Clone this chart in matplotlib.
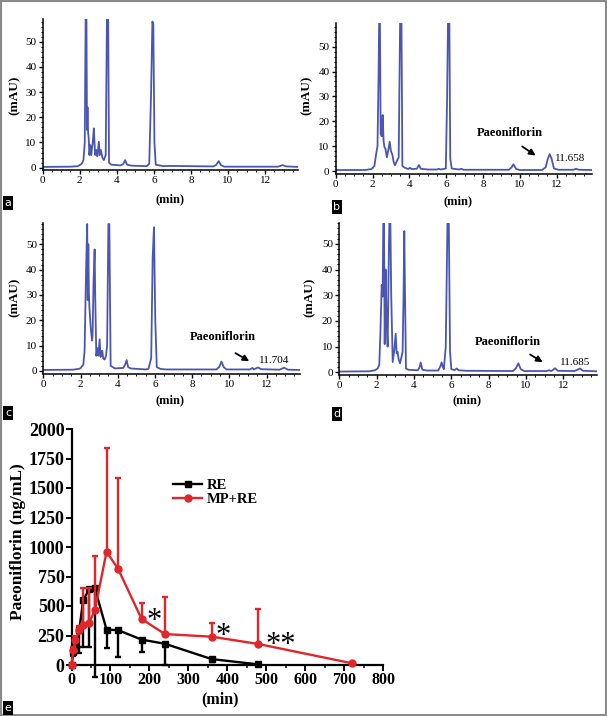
import matplotlib
matplotlib.use("Agg")
import matplotlib.pyplot as plt
from matplotlib.ticker import MultipleLocator
from matplotlib.patches import Rectangle
from matplotlib.lines import Line2D

W, H = 607, 716
SERIF = "Liberation Serif"
BLUE = "#4b56b3"
RED = "#e0262b"

# chromatogram traces, (min, mAU)
trace_a = [(0, 0.3), (1.5, 0.4), (1.9, 0.6), (2.1, 1.5), (2.2, 3), (2.27, 10), (2.32, 62), (2.36, 62),
           (2.39, 15), (2.42, 24), (2.45, 14), (2.48, 12), (2.52, 5), (2.57, 9), (2.62, 5), (2.7, 10),
           (2.76, 15.6), (2.83, 5), (2.9, 7), (2.95, 4.5), (3.03, 10.3), (3.08, 5), (3.14, 7), (3.22, 4),
           (3.3, 3), (3.4, 5), (3.47, 62), (3.53, 62), (3.58, 2), (3.7, 1.2), (4.2, 0.9), (4.35, 1.5),
           (4.45, 3), (4.55, 1.2), (4.8, 0.8), (5.6, 0.6), (5.75, 1.5), (5.85, 30), (5.92, 58), (5.97, 57),
           (6.03, 10), (6.1, 1.2), (6.5, 0.6), (6.8, 0.7), (9.2, 0.5), (9.35, 1), (9.5, 2.6), (9.62, 1),
           (9.8, 0.4), (12.7, 0.4), (12.95, 1), (13.15, 0.5), (13.8, 0.3)]
trace_b = [(0, 0.4), (1.6, 0.4), (1.95, 0.8), (2.1, 2), (2.2, 7), (2.27, 10), (2.33, 40), (2.36, 62),
           (2.4, 62), (2.44, 15), (2.5, 14), (2.55, 22.5), (2.6, 12), (2.65, 9.5), (2.7, 9), (2.78, 5.5),
           (2.87, 9), (2.93, 11.8), (3.0, 8), (3.08, 6.5), (3.15, 3.5), (3.22, 2.3), (3.32, 4), (3.42, 5.5),
           (3.5, 62), (3.57, 62), (3.62, 2), (3.75, 1.3), (3.95, 0.8), (4.03, 1.3), (4.12, 0.8), (4.4, 0.9),
           (4.52, 2.4), (4.62, 0.9), (5.0, 0.6), (5.5, 0.6), (5.6, 0.9), (5.7, 0.6), (5.98, 1), (6.05, 30),
           (6.1, 62), (6.17, 62), (6.22, 5), (6.3, 1), (6.7, 0.6), (6.82, 0.9), (6.95, 0.5), (9.4, 0.5),
           (9.55, 1.5), (9.65, 2.7), (9.8, 0.8), (10, 0.4), (11.2, 0.4), (11.4, 1.5), (11.52, 5),
           (11.62, 6.8), (11.72, 5), (11.85, 1), (12.1, 0.5), (12.9, 0.5), (13.05, 0.9), (13.2, 0.5),
           (13.9, 0.4)]
trace_c = [(0, 0.4), (1.6, 0.5), (1.97, 0.9), (2.1, 2), (2.15, 2.4), (2.22, 8), (2.3, 40), (2.36, 58),
           (2.39, 28), (2.42, 50), (2.45, 31), (2.48, 25), (2.55, 17), (2.62, 12), (2.65, 14), (2.7, 35),
           (2.76, 48), (2.79, 30), (2.85, 6), (2.92, 9), (2.96, 6), (3.03, 12.5), (3.08, 5.5), (3.12, 7),
           (3.17, 8), (3.22, 5), (3.3, 4.5), (3.37, 6), (3.43, 10), (3.5, 58), (3.55, 58), (3.62, 2),
           (3.7, 1.7), (3.85, 1), (4.3, 1.2), (4.4, 2.5), (4.48, 4.3), (4.56, 1.5), (4.7, 1), (5.5, 0.6),
           (5.65, 0.8), (5.8, 5), (5.88, 45), (5.95, 56.7), (6.02, 20), (6.1, 1.5), (6.3, 0.8), (6.6, 0.6),
           (9.3, 0.6), (9.45, 1.5), (9.58, 3.7), (9.7, 1.5), (9.85, 0.6), (11.1, 0.6), (11.25, 1.2),
           (11.32, 0.6), (11.4, 0.9), (11.55, 1.4), (11.7, 0.7), (12.7, 0.5), (12.95, 1.3), (13.15, 0.5),
           (13.8, 0.4)]
trace_d = [(0, 0.3), (1.6, 0.4), (1.91, 0.8), (2.05, 1.5), (2.14, 2.9), (2.2, 15), (2.27, 34), (2.32, 29.5),
           (2.36, 62), (2.39, 62), (2.43, 11), (2.48, 40), (2.53, 20), (2.59, 10), (2.66, 50), (2.69, 62),
           (2.73, 62), (2.78, 30), (2.86, 4), (2.95, 9), (3.02, 15), (3.07, 7.4), (3.12, 8), (3.18, 5),
           (3.25, 3.5), (3.33, 6), (3.39, 8), (3.44, 30), (3.48, 55), (3.52, 30), (3.57, 1.5), (3.7, 1),
           (4.2, 0.8), (4.3, 2), (4.36, 3.8), (4.45, 1), (4.7, 0.7), (5.3, 0.7), (5.42, 2.5), (5.48, 3.9),
           (5.55, 2), (5.6, 1.2), (5.7, 10), (5.8, 62), (5.86, 62), (5.93, 8), (6.0, 1.2), (6.18, 0.9),
           (6.29, 1.5), (6.4, 0.8), (6.8, 0.6), (9.3, 0.5), (9.45, 1.5), (9.59, 3.5), (9.72, 1.2),
           (9.9, 0.5), (11.1, 0.5), (11.25, 0.8), (11.32, 0.5), (11.4, 0.7), (11.55, 1.6), (11.7, 0.6),
           (12.6, 0.5), (12.89, 1.5), (13.05, 0.6), (13.8, 0.4)]

# pharmacokinetic curves (panel e)
time_re = [0, 5, 10, 20, 30, 45, 60, 90, 120, 180, 240, 360, 480]
conc_re = [0, 110, 160, 300, 550, 640, 650, 300, 295, 215, 180, 50, 5]
sd_re = [0, 30, 60, 200, 400, 490, 750, 160, 225, 105, 180, 25, 0]
time_mp = [0, 5, 10, 20, 30, 45, 60, 90, 120, 180, 240, 360, 480, 720]
conc_mp = [0, 130, 210, 297, 340, 355, 466, 960, 813, 390, 262, 240, 178, 15]
sd_mp = [0, 20, 40, 30, 310, 300, 455, 880, 775, 135, 315, 120, 300, 0]
stars = [(211, 440, "*"), (390, 313, "*"), (537, 237, "**")]


def box(left, top, right, bottom):
    return [left / W, 1 - bottom / H, (right - left) / W, (bottom - top) / H]


def ftext(x, y, s, **kw):
    fig.text(x / W, 1 - y / H, s, **kw)


def chrom(rect, trace, xmax, ytop, peak=None):
    ax = fig.add_axes(rect)
    t, y = zip(*trace)
    ax.plot(t, y, color=BLUE, lw=1.3)
    ax.set_xlim(0, xmax)
    ax.set_ylim(-1, ytop)
    for s in ["top", "right"]:
        ax.spines[s].set_visible(False)
    for s in ["left", "bottom"]:
        ax.spines[s].set_linewidth(1.1)
    ax.set_xticks(range(0, 13, 2))
    ax.set_yticks(range(0, 51, 10))
    ax.xaxis.set_minor_locator(MultipleLocator(0.5))
    ax.yaxis.set_minor_locator(MultipleLocator(2))
    ax.tick_params(which="major", direction="out", length=3, width=1, labelsize=8, pad=1.5)
    ax.tick_params(which="minor", direction="out", length=1.5, width=0.7)
    for lab in ax.get_xticklabels() + ax.get_yticklabels():
        lab.set_fontfamily(SERIF)
    if peak:
        tx, ty, ax0, ay0, ax1, ay1, lx, ly, rt = peak
        ax.text(tx, ty, "Paeoniflorin", family=SERIF, weight="bold", fontsize=9,
                ha="center", va="center")
        ax.annotate("", xy=(ax1, ay1), xytext=(ax0, ay0),
                    arrowprops=dict(arrowstyle="-|>", color="black", lw=1.3, mutation_scale=9))
        ax.text(lx, ly, rt, family=SERIF, fontsize=8, ha="left", va="center")
    return ax


fig = plt.figure(figsize=(W / 100, H / 100), dpi=100)

chrom(box(42.7, 19, 298.4, 170.2), trace_a, 13.8, 59)
chrom(box(335.7, 23, 591.7, 173.5), trace_b, 13.9, 59.5,
      (9.46, 15.3, 10.0, 10.5, 10.98, 5.6, 11.9, 5.2, "11.658"))
chrom(box(43.3, 223.3, 300, 373.5), trace_c, 13.8, 58.3,
      (9.66, 13.4, 10.2, 7.6, 11.2, 3.3, 11.6, 4.1, "11.704"))
chrom(box(339.3, 222.8, 597, 374.9), trace_d, 13.8, 58.2,
      (9.01, 11.8, 10.09, 7.5, 11.02, 3.4, 11.82, 4.0, "11.685"))

# axis titles of the chromatograms
for x, y in [(170, 199), (458, 201), (170, 400), (467, 400)]:
    ftext(x, y, "(min)", family=SERIF, weight="bold", fontsize=9, ha="center", va="center")
for x, y in [(15, 95), (307, 95), (15, 297), (310, 297)]:
    ftext(x, y, "(mAU)", family=SERIF, weight="bold", fontsize=9.5, ha="center", va="center",
          rotation=90)

# panel e
ax = fig.add_axes(box(71.5, 429, 383, 665))
ax.errorbar(time_re, conc_re, yerr=[sd_re, [0] * len(sd_re)], color="black", lw=1.7,
            marker="s", ms=4.5, capsize=2.5, elinewidth=1.7, capthick=1.7, clip_on=False, zorder=2)
ax.errorbar(time_mp, conc_mp, yerr=[[0] * len(sd_mp), sd_mp], color=RED, lw=1.7,
            marker="o", ms=5, capsize=2.5, elinewidth=1.7, capthick=1.7, clip_on=False, zorder=3)
# asterisks: baseline placed about 16 px under the glyph centre
for x, y, s in stars:
    ax.text(x, y - 135, s, family=SERIF, fontsize=22, ha="center", va="baseline")
ax.set_xlim(0, 800)
ax.set_ylim(0, 2000)
ax.set_xticks(range(0, 801, 100))
ax.set_yticks(range(0, 2001, 250))
ax.xaxis.set_minor_locator(MultipleLocator(50))
for s in ["top", "right"]:
    ax.spines[s].set_visible(False)
for s in ["left", "bottom"]:
    ax.spines[s].set_linewidth(1.6)
ax.tick_params(which="major", direction="out", length=4, width=1.4, pad=1)
ax.tick_params(axis="x", labelsize=11.5)
ax.tick_params(axis="y", labelsize=13)
ax.tick_params(which="minor", direction="out", length=2.5, width=1.1)
for lab in ax.get_xticklabels() + ax.get_yticklabels():
    lab.set_fontfamily(SERIF)
    lab.set_fontweight("bold")
handles = [Line2D([], [], color="black", lw=1.7, marker="s", ms=4.5),
           Line2D([], [], color=RED, lw=1.7, marker="o", ms=5)]
ax.legend(handles, ["RE", "MP+RE"], loc="upper left", bbox_to_anchor=(0.326, 0.79),
          frameon=False, borderpad=0, borderaxespad=0, handlelength=2, handletextpad=0.3,
          labelspacing=0.1, prop=dict(family=SERIF, weight="bold", size=10.5))
ftext(220, 699, "(min)", family=SERIF, weight="bold", fontsize=11.5, ha="center", va="center")
ftext(18, 542, "Paeoniflorin (ng/mL)", family=SERIF, weight="bold", fontsize=12.5, ha="center",
      va="center", rotation=90)

# panel letters
for x, y, s in [(8, 203, "a"), (337, 207, "b"), (8, 413, "c"), (337, 414, "d"), (8, 708, "e")]:
    ftext(x, y, s, color="white", fontsize=8, ha="center", va="center",
          bbox=dict(boxstyle="square,pad=0.15", fc="black", ec="none"))

fig.patches.append(Rectangle((0.001, 0.001), 0.997, 0.997, transform=fig.transFigure,
                             fill=False, edgecolor="#8a8a8a", lw=1.5))

fig.savefig("out.png", dpi=100)
